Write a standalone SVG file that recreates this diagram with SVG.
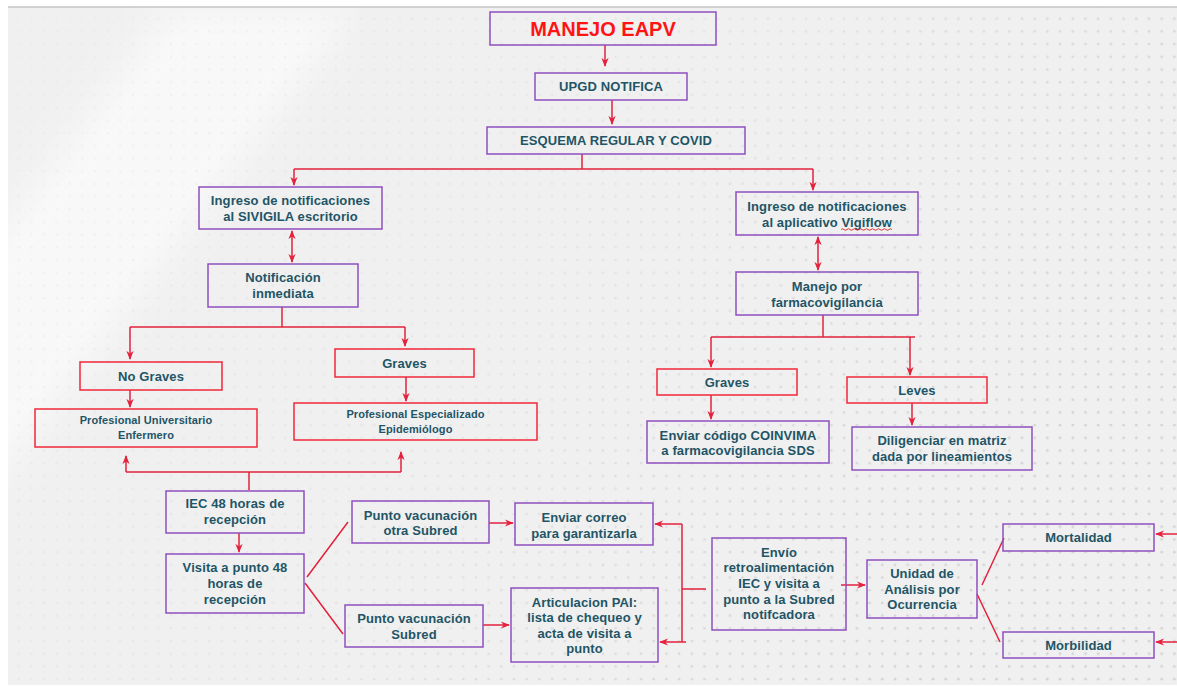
<svg xmlns="http://www.w3.org/2000/svg" width="1177" height="687" viewBox="0 0 1177 687">
  <style>
    .bx { fill: none; stroke-width: 1.5; }
    .pu { stroke: #8e4fbf; }
    .rd { stroke: #f2273a; }
    .t { font-family: "Liberation Sans", Arial, sans-serif; font-weight: bold; font-size: 13px; fill: #1f5566; text-anchor: middle; letter-spacing: 0.1px; }
    .s { font-size: 11px; }
    .title { font-family: "Liberation Sans", Arial, sans-serif; font-weight: bold; font-size: 20px; fill: #ff1414; text-anchor: middle; }
    .c { fill: none; stroke: #e3223c; stroke-width: 1.5; }
    .a { marker-end: url(#ah); }
    .aa { marker-start: url(#ah); marker-end: url(#ah); }
  </style>
  <defs>
    <marker id="ah" viewBox="0 0 10 10" refX="9" refY="5" markerWidth="9" markerHeight="9" markerUnits="userSpaceOnUse" orient="auto-start-reverse">
      <path d="M0,1 L10,5 L0,9 L3,5 z" fill="#e3223c"/>
    </marker>
    <pattern id="dots" width="12.7" height="12.7" patternUnits="userSpaceOnUse">
      <circle cx="6" cy="6" r="1.3" fill="#d2d2d2"/>
    </pattern>
    <linearGradient id="fade" x1="0" y1="0" x2="1" y2="0.4">
      <stop offset="0" stop-color="#fff" stop-opacity="0.1"/>
      <stop offset="0.5" stop-color="#fff" stop-opacity="0.3"/>
      <stop offset="1" stop-color="#fff" stop-opacity="1"/>
    </linearGradient>
    <mask id="dm">
      <rect x="0" y="0" width="1177" height="687" fill="url(#fade)"/>
    </mask>
    <filter id="soft" x="-50%" y="-50%" width="200%" height="200%">
      <feGaussianBlur stdDeviation="18"/>
    </filter>
  </defs>

  <!-- page background -->
  <rect x="0" y="0" width="1177" height="687" fill="#ffffff"/>
  <rect x="8" y="7" width="1169" height="678" fill="#f0f0f0"/>
  <g clip-path="inset(0)">
    <polygon points="170,7 360,7 -160,687 -350,687" fill="#fafafa" opacity="0.85" filter="url(#soft)"/>
  </g>
  <rect x="8" y="7" width="1169" height="678" fill="url(#dots)" mask="url(#dm)"/>
  <rect x="0" y="0" width="8" height="687" fill="#ffffff"/>
  <rect x="0" y="0" width="1177" height="7" fill="#ffffff"/>
  <rect x="0" y="685" width="1177" height="2" fill="#ffffff"/>
  <line x1="8" y1="7" x2="1177" y2="7" stroke="#c4c4c4" stroke-width="1.5"/>

  <!-- connectors -->
  <g id="connectors">
    <path class="c a" d="M605,45 V66"/>
    <path class="c a" d="M612,100 V124"/>
    <path class="c" d="M582,154 V169 M294,169 H813"/>
    <path class="c a" d="M294,169 V185"/>
    <path class="c a" d="M813,169 V190"/>
    <path class="c aa" d="M292,231 V262"/>
    <path class="c aa" d="M818,237 V270"/>
    <path class="c" d="M282,307 V327 M130,327 H405"/>
    <path class="c a" d="M130,327 V359"/>
    <path class="c a" d="M405,327 V346"/>
    <path class="c a" d="M130,390 V407"/>
    <path class="c a" d="M406,377 V401"/>
    <path class="c" d="M249,490 V472 M126,472 H401"/>
    <path class="c a" d="M126,472 V456"/>
    <path class="c a" d="M401,472 V452"/>
    <path class="c a" d="M239,533 V552"/>
    <path class="c" d="M307,577 L348,522 M305,583 L343,634"/>
    <path class="c a" d="M489,523 H513"/>
    <path class="c a" d="M483,625 H509"/>
    <path class="c" d="M706,589 H682 M682,524 V642"/>
    <path class="c a" d="M682,524 H655"/>
    <path class="c a" d="M686,642 H660"/>
    <path class="c a" d="M841,585 H865"/>
    <path class="c" d="M982,585 L1004,538 M977,594 L1000,642"/>
    <path class="c a" d="M1177,534 H1156"/>
    <path class="c a" d="M1177,642 H1156"/>
    <path class="c" d="M823,315 V337 M711,337 H915"/>
    <path class="c a" d="M711,337 V367"/>
    <path class="c a" d="M910,337 V375"/>
    <path class="c a" d="M711,395 V419"/>
    <path class="c a" d="M912,403 V425"/>
  </g>

  <!-- nodes -->
  <g id="n-title">
    <rect class="bx pu" x="490" y="12" width="226" height="33"/>
    <text class="title" x="603" y="36">MANEJO EAPV</text>
  </g>
  <g id="n-upgd">
    <rect class="bx pu" x="535" y="73" width="152" height="27"/>
    <text class="t" x="611" y="91">UPGD NOTIFICA</text>
  </g>
  <g id="n-esquema">
    <rect class="bx pu" x="487" y="127" width="258" height="27"/>
    <text class="t" x="616" y="145">ESQUEMA REGULAR Y COVID</text>
  </g>
  <g id="n-sivigila">
    <rect class="bx pu" x="199" y="187" width="183" height="42"/>
    <text class="t" x="290.5" y="204.5">Ingreso de notificaciones</text>
    <text class="t" x="290.5" y="220.5">al SIVIGILA escritorio</text>
  </g>
  <g id="n-inmediata">
    <rect class="bx pu" x="208" y="264" width="150" height="43"/>
    <text class="t" x="283" y="282">Notificación</text>
    <text class="t" x="283" y="298">inmediata</text>
  </g>
  <g id="n-nograves">
    <rect class="bx rd" x="80" y="362" width="142" height="28"/>
    <text class="t" x="151" y="380.5">No Graves</text>
  </g>
  <g id="n-graves-l">
    <rect class="bx rd" x="335" y="349" width="139" height="28"/>
    <text class="t" x="404.5" y="367.5">Graves</text>
  </g>
  <g id="n-prof-univ">
    <rect class="bx rd" x="35" y="409" width="222" height="38"/>
    <text class="t s" x="146" y="424">Profesional Universitario</text>
    <text class="t s" x="146" y="438.5">Enfermero</text>
  </g>
  <g id="n-prof-esp">
    <rect class="bx rd" x="294" y="403" width="243" height="37"/>
    <text class="t s" x="415.5" y="418">Profesional Especializado</text>
    <text class="t s" x="415.5" y="432.5">Epidemiólogo</text>
  </g>
  <g id="n-iec">
    <rect class="bx pu" x="166" y="491" width="138" height="42"/>
    <text class="t" x="235" y="507.5">IEC 48 horas de</text>
    <text class="t" x="235" y="523.5">recepción</text>
  </g>
  <g id="n-visita">
    <rect class="bx pu" x="166" y="554" width="138" height="59"/>
    <text class="t" x="235" y="571.5">Visita a punto 48</text>
    <text class="t" x="235" y="587.5">horas de</text>
    <text class="t" x="235" y="603.5">recepción</text>
  </g>
  <g id="n-otra-subred">
    <rect class="bx pu" x="352" y="501" width="137" height="42"/>
    <text class="t" x="420.5" y="519.5">Punto vacunación</text>
    <text class="t" x="420.5" y="535">otra Subred</text>
  </g>
  <g id="n-correo">
    <rect class="bx pu" x="515" y="503" width="138" height="42"/>
    <text class="t" x="584" y="521.5">Enviar correo</text>
    <text class="t" x="584" y="537.5">para garantizarla</text>
  </g>
  <g id="n-subred">
    <rect class="bx pu" x="345" y="605" width="138" height="42"/>
    <text class="t" x="414" y="622.5">Punto vacunación</text>
    <text class="t" x="414" y="638.5">Subred</text>
  </g>
  <g id="n-pai">
    <rect class="bx pu" x="511" y="588" width="147" height="74"/>
    <text class="t" x="584.5" y="606.5">Articulacion PAI:</text>
    <text class="t" x="584.5" y="622">lista de chequeo y</text>
    <text class="t" x="584.5" y="637.5">acta de visita a</text>
    <text class="t" x="584.5" y="653">punto</text>
  </g>
  <g id="n-envio">
    <rect class="bx pu" x="712" y="538" width="134" height="92"/>
    <text class="t" x="779" y="556.5">Envío</text>
    <text class="t" x="779" y="572">retroalimentación</text>
    <text class="t" x="779" y="587.5">IEC y visita a</text>
    <text class="t" x="779" y="603.5">punto a la Subred</text>
    <text class="t" x="779" y="619">notifcadora</text>
  </g>
  <g id="n-unidad">
    <rect class="bx pu" x="867" y="560" width="110" height="58"/>
    <text class="t" x="922" y="577.5">Unidad de</text>
    <text class="t" x="922" y="593.5">Análisis por</text>
    <text class="t" x="922" y="608.5">Ocurrencia</text>
  </g>
  <g id="n-mortalidad">
    <rect class="bx pu" x="1003" y="524" width="151" height="27"/>
    <text class="t" x="1078.5" y="542">Mortalidad</text>
  </g>
  <g id="n-morbilidad">
    <rect class="bx pu" x="1003" y="632" width="151" height="26"/>
    <text class="t" x="1078.5" y="649.5">Morbilidad</text>
  </g>
  <g id="n-vigiflow">
    <rect class="bx pu" x="736" y="192" width="182" height="43"/>
    <text class="t" x="827" y="210.5">Ingreso de notificaciones</text>
    <text class="t" x="827" y="226.5">al aplicativo Vigiflow</text>
    <path d="M841,229.5 q1.5,-1.5 3,0 t3,0 t3,0 t3,0 t3,0 t3,0 t3,0 t3,0 t3,0 t3,0 t3,0 t3,0 t3,0 t3,0 t3,0 t3,0 t3,0" fill="none" stroke="#e02020" stroke-width="0.9"/>
  </g>
  <g id="n-farmaco">
    <rect class="bx pu" x="736" y="272" width="182" height="43"/>
    <text class="t" x="827" y="290.5">Manejo por</text>
    <text class="t" x="827" y="306.5">farmacovigilancia</text>
  </g>
  <g id="n-graves-r">
    <rect class="bx rd" x="657" y="369" width="140" height="26"/>
    <text class="t" x="727" y="386.5">Graves</text>
  </g>
  <g id="n-leves">
    <rect class="bx rd" x="847" y="377" width="140" height="26"/>
    <text class="t" x="917" y="394.5">Leves</text>
  </g>
  <g id="n-coinvima">
    <rect class="bx pu" x="647" y="421" width="182" height="42"/>
    <text class="t" x="738" y="439.5">Enviar código COINVIMA</text>
    <text class="t" x="738" y="454.5">a farmacovigilancia SDS</text>
  </g>
  <g id="n-diligenciar">
    <rect class="bx pu" x="852" y="427" width="180" height="43"/>
    <text class="t" x="942" y="444.5">Diligenciar en matriz</text>
    <text class="t" x="942" y="461">dada por lineamientos</text>
  </g>
</svg>
